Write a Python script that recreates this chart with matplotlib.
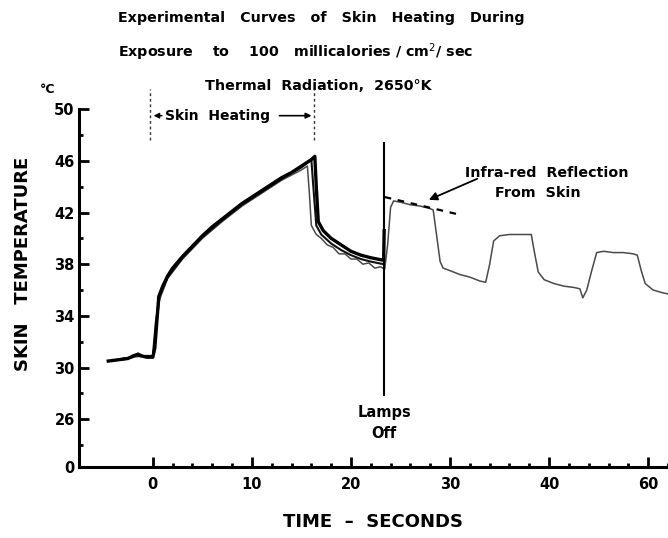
import matplotlib
matplotlib.use("Agg")
import matplotlib.pyplot as plt

plt.rcParams['font.family'] = ['DejaVu Sans']

# ---------------- data ----------------
# broken y-axis: the "0" tick sits one step below 26
y_zero_pos = 22.3

# Curve A (thick black)
tA = [-4.5, -3.5, -2.5, -2.0, -1.6, -1.2, -0.6, 0.0, 0.2, 0.6, 1.0, 1.5, 2.0, 3.0,
      4.0, 5.0, 6.0, 7.0, 8.0, 9.0, 10.0, 11.0, 12.0, 13.0, 14.0, 15.0, 16.0, 16.35,
      16.5, 16.7, 17.2, 18.0, 19.0, 20.0, 21.0, 22.0, 23.3, 23.35]
yA = [30.5, 30.6, 30.7, 30.9, 31.0, 30.9, 30.8, 30.8, 31.5, 35.5, 36.3, 37.1, 37.7, 38.6,
      39.4, 40.2, 40.9, 41.5, 42.1, 42.7, 43.2, 43.7, 44.2, 44.7, 45.1, 45.6, 46.1, 46.35,
      44.0, 41.3, 40.6, 40.0, 39.5, 39.0, 38.7, 38.5, 38.3, 40.6]

# Curve B (medium black)
tB = [-3.0, -2.0, -1.5, -1.0, 0.0, 0.3, 0.7, 1.5, 3.0, 5.0, 7.0, 9.0, 11.0, 13.0,
      15.0, 16.0, 16.2, 16.5, 17.0, 18.0, 19.0, 20.0, 21.0, 22.0, 23.3]
yB = [30.7, 30.8, 31.1, 30.9, 30.9, 33.5, 35.6, 37.0, 38.5, 40.1, 41.4, 42.6, 43.6, 44.6,
      45.5, 46.1, 44.0, 41.0, 40.3, 39.6, 39.1, 38.7, 38.4, 38.2, 38.0]

# Curve C (thin grey) - continues after lamps off
tC = [-4.0, -3.0, -2.0, -1.0, 0.0, 0.3, 0.7, 1.5, 3.0, 5.0, 7.0, 9.0, 11.0, 13.0, 15.0,
      15.6, 15.8, 16.0, 16.5, 17.0, 17.6, 18.2, 18.8, 19.4, 20.0, 20.6, 21.2, 21.8, 22.4,
      23.0, 23.4, 23.7, 24.0, 24.3, 25.0, 26.0, 27.0, 28.0, 28.3, 29.0, 29.3, 30.0, 31.0,
      32.0, 33.0, 33.6, 34.0, 34.4, 35.0, 36.0, 37.0, 38.2, 38.5, 38.9, 39.5, 40.5, 41.5,
      42.5, 43.1, 43.4, 43.8, 44.3, 44.8, 45.5, 46.5, 47.5, 48.5, 48.9, 49.3, 49.7, 50.5,
      51.4, 52.0]
yC = [30.6, 30.6, 30.8, 30.9, 30.9, 33.0, 35.3, 36.9, 38.4, 40.0, 41.3, 42.5, 43.5, 44.5,
      45.3, 45.6, 43.5, 41.0, 40.3, 40.0, 39.5, 39.3, 38.8, 38.8, 38.4, 38.4, 38.0, 38.1,
      37.7, 37.8, 37.6, 39.5, 42.4, 42.9, 42.8, 42.6, 42.5, 42.3, 42.2, 38.2, 37.7, 37.5,
      37.2, 37.0, 36.7, 36.6, 38.0, 39.8, 40.2, 40.3, 40.3, 40.3, 39.0, 37.4, 36.8, 36.5,
      36.3, 36.2, 36.1, 35.4, 36.0, 37.5, 38.9, 39.0, 38.9, 38.9, 38.8, 38.7, 37.5, 36.5,
      36.0, 35.8, 35.7]

# extrapolated (dashed) reflection line
t_ext = [23.4, 30.6]
y_ext = [43.2, 41.9]

lamps_off_t = 23.35
lamps_line_y = [27.9, 47.4]
heat_start, heat_end = 0.0, 16.3

y_ticks = [y_zero_pos, 26, 30, 34, 38, 42, 46, 50]
y_ticklabels = ['0', '26', '30', '34', '38', '42', '46', '50']
y_minor = [24, 28, 32, 36, 40, 44, 48]
x_ticks = [0, 10, 20, 30, 40, 50]
x_ticklabels = ['0', '10', '20', '30', '40', '60']
x_minor = [v for v in range(2, 53, 2) if v % 10 != 0]

# ---------------- figure ----------------
fig = plt.figure(figsize=(6.68, 5.38), dpi=100)
ax = fig.add_axes([0.118, 0.132, 0.882, 0.665])

ax.plot(tC, yC, color='#4a4a4a', lw=1.1, solid_joinstyle='round')
ax.plot(tB, yB, color='#111111', lw=1.5, solid_joinstyle='round')
ax.plot(tA, yA, color='black', lw=2.4, solid_joinstyle='round')
ax.plot(t_ext, y_ext, color='black', lw=1.6, ls=(0, (3, 3)))

# lamps-off line
ax.plot([lamps_off_t, lamps_off_t], lamps_line_y, color='black', lw=1.5)
ax.text(lamps_off_t, 26.55, 'Lamps', ha='center', va='center', fontsize=10.5, fontweight='bold')
ax.text(lamps_off_t, 24.9, 'Off', ha='center', va='center', fontsize=10.5, fontweight='bold')

# skin heating annotation
for xv in (heat_start - 0.3, heat_end):
    ax.plot([xv, xv], [47.6, 51.6], color='#333333', lw=1.0, ls=(0, (2, 2)), clip_on=False)
ax.annotate('', xy=(heat_start - 0.2, 49.5), xytext=(1.2, 49.5),
            arrowprops=dict(arrowstyle='-|>', color='black', lw=1.0, mutation_scale=8),
            annotation_clip=False)
ax.text(1.2, 49.5, 'Skin  Heating', ha='left', va='center', fontsize=10, fontweight='bold')
ax.annotate('', xy=(heat_end, 49.5), xytext=(12.5, 49.5),
            arrowprops=dict(arrowstyle='-|>', color='black', lw=1.2, mutation_scale=8),
            annotation_clip=False)

# infra-red reflection annotation
ax.annotate('', xy=(27.6, 42.9), xytext=(33.0, 44.7),
            arrowprops=dict(arrowstyle='-|>', color='black', lw=1.3, mutation_scale=12))
ax.text(39.8, 45.1, 'Infra-red  Reflection', ha='center', va='center', fontsize=10.3, fontweight='bold')
ax.text(38.9, 43.5, 'From  Skin', ha='center', va='center', fontsize=10.3, fontweight='bold')

# axes styling
ax.set_xlim(-7.47, 52.0)
ax.set_ylim(y_zero_pos, 50)
for s in ('top', 'right'):
    ax.spines[s].set_visible(False)
for s in ('left', 'bottom'):
    ax.spines[s].set_linewidth(2.2)

ax.set_yticks(y_ticks)
ax.set_yticklabels(y_ticklabels)
ax.set_yticks(y_minor, minor=True)
ax.set_xticks(x_ticks)
ax.set_xticklabels(x_ticklabels)
ax.set_xticks(x_minor, minor=True)
ax.tick_params(which='major', direction='in', length=7, width=2.0, labelsize=10.5)
ax.tick_params(which='minor', direction='in', length=3, width=2.0)
ax.tick_params(axis='y', which='major', pad=3)
ax.tick_params(axis='x', which='major', pad=7)
for lab in ax.get_xticklabels() + ax.get_yticklabels():
    lab.set_fontweight('bold')

ax.set_xlabel('TIME  –  SECONDS', fontsize=13, fontweight='bold', labelpad=15)
fig.text(0.034, 0.51, 'SKIN   TEMPERATURE', rotation=90, ha='center', va='center',
         fontsize=13, fontweight='bold')
fig.text(0.072, 0.833, '°C', ha='center', va='center', fontsize=9, fontweight='bold')

# title
fig.text(118/668, 1 - 18/538, 'Experimental   Curves   of   Skin   Heating   During', ha='left', va='center',
         fontsize=10.3, fontweight='bold')
fig.text(118/668, 1 - 52/538, 'Exposure    to    100   millicalories / cm$^{2}$/ sec', ha='left', va='center',
         fontsize=10.3, fontweight='bold')
fig.text(318/668, 1 - 86/538, 'Thermal  Radiation,  2650°K', ha='center', va='center',
         fontsize=10.3, fontweight='bold')

fig.savefig('out.png', dpi=100, facecolor='white')
